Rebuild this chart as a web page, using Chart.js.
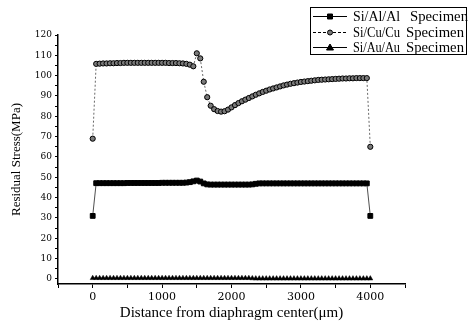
<!DOCTYPE html>
<html>
<head>
<meta charset="utf-8">
<script src="https://cdn.jsdelivr.net/npm/chart.js@4.4.1/dist/chart.umd.min.js"></script>
<style>
  html, body { margin: 0; padding: 0; background: #fff; }
  #wrap { width: 471px; height: 327px; position: relative; }
</style>
</head>
<body>
<div id="wrap"><canvas id="c" width="471" height="327"></canvas></div>
<script>
// Distance from diaphragm center (um), one sample every 50 um
const xPos = [
  0, 50, 100, 150, 200, 250, 300, 350, 400, 450,
  500, 550, 600, 650, 700, 750, 800, 850, 900, 950,
  1000, 1050, 1100, 1150, 1200, 1250, 1300, 1350, 1400, 1450,
  1500, 1550, 1600, 1650, 1700, 1750, 1800, 1850, 1900, 1950,
  2000, 2050, 2100, 2150, 2200, 2250, 2300, 2350, 2400, 2450,
  2500, 2550, 2600, 2650, 2700, 2750, 2800, 2850, 2900, 2950,
  3000, 3050, 3100, 3150, 3200, 3250, 3300, 3350, 3400, 3450,
  3500, 3550, 3600, 3650, 3700, 3750, 3800, 3850, 3900, 3950,
  4000
];

// Residual stress (MPa) per specimen
const alStress = [
  31, 47.1, 47.1, 47.1, 47.1, 47.1, 47.1, 47.1, 47.1, 47.1,
  47.2, 47.2, 47.2, 47.2, 47.2, 47.2, 47.2, 47.2, 47.2, 47.2,
  47.3, 47.3, 47.3, 47.3, 47.3, 47.3, 47.3, 47.4, 47.6, 48.0,
  48.4, 47.9, 47.0, 46.5, 46.4, 46.4, 46.4, 46.4, 46.4, 46.4,
  46.4, 46.4, 46.4, 46.4, 46.4, 46.4, 46.5, 46.8, 47.0, 47.0,
  47.0, 47.0, 47.0, 47.0, 47.0, 47.0, 47.0, 47.0, 47.0, 47.0,
  47.0, 47.0, 47.0, 47.0, 47.0, 47.0, 47.0, 47.0, 47.0, 47.0,
  47.0, 47.0, 47.0, 47.0, 47.0, 47.0, 47.0, 47.0, 47.0, 47.0,
  31
];
const cuStress = [
  69, 105.8, 105.9, 106.0, 106.0, 106.1, 106.1, 106.2, 106.2, 106.3,
  106.3, 106.3, 106.3, 106.3, 106.3, 106.3, 106.3, 106.3, 106.3, 106.3,
  106.3, 106.3, 106.2, 106.2, 106.2, 106.1, 106.0, 105.8, 105.4, 104.6,
  111, 108.5, 97, 89.4, 85.2, 83.5, 82.6, 82.3, 82.5, 83.3,
  84.4, 85.5, 86.5, 87.4, 88.2, 89.0, 89.8, 90.6, 91.3, 92.0,
  92.6, 93.2, 93.7, 94.2, 94.7, 95.2, 95.6, 96.0, 96.3, 96.6,
  96.9, 97.1, 97.3, 97.5, 97.7, 97.9, 98.0, 98.1, 98.2, 98.3,
  98.4, 98.5, 98.6, 98.6, 98.7, 98.7, 98.8, 98.8, 98.8, 98.8,
  65
];
const auStress = [
  0.4, 0.4, 0.4, 0.4, 0.4, 0.4, 0.4, 0.4, 0.4, 0.4,
  0.4, 0.4, 0.4, 0.4, 0.4, 0.4, 0.4, 0.4, 0.4, 0.4,
  0.4, 0.4, 0.4, 0.4, 0.4, 0.4, 0.4, 0.4, 0.4, 0.4,
  0.4, 0.4, 0.4, 0.4, 0.4, 0.4, 0.4, 0.4, 0.4, 0.4,
  0.4, 0.4, 0.4, 0.4, 0.4, 0.4, 0.3, 0.2, 0.2, 0.2,
  0.2, 0.2, 0.2, 0.2, 0.2, 0.2, 0.2, 0.2, 0.2, 0.2,
  0.2, 0.2, 0.2, 0.2, 0.2, 0.2, 0.2, 0.2, 0.2, 0.2,
  0.2, 0.2, 0.2, 0.2, 0.2, 0.2, 0.2, 0.2, 0.2, 0.2,
  0.2
];

const seriesNames = ['Si/Al/Al', 'Si/Cu/Cu', 'Si/Au/Au'];
const legendSuffix = 'Specimen';

// Axis ticks: labelled (major) and unlabelled (minor)
const xMajor = [0, 1000, 2000, 3000, 4000];
const xMinor = [-500, 500, 1500, 2500, 3500, 4500];
const yMajor = [0, 10, 20, 30, 40, 50, 60, 70, 80, 90, 100, 110, 120];
const yMinor = [5, 15, 25, 35, 45, 55, 65, 75, 85, 95, 105, 115];

const SERIF = '"Liberation Serif", "DejaVu Serif", serif';
const DSERIF = '"DejaVu Serif", "Liberation Serif", serif';

function pts(ys) {
  return xPos.map((x, i) => ({ x: x, y: ys[i] }));
}

function setTicks(major, minor) {
  return function (scale) {
    scale.ticks = major.concat(minor).sort((a, b) => a - b).map(v => ({ value: v }));
  };
}

// draw one legend marker by hand so the line passes through it
function mark(ctx, style, x, y, fill) {
  ctx.save();
  ctx.fillStyle = fill;
  ctx.strokeStyle = '#000';
  ctx.lineWidth = 1;
  ctx.beginPath();
  if (style === 'rect') {
    ctx.rect(x - 2.5, y - 2.5, 5, 5);
  } else if (style === 'circle') {
    ctx.arc(x, y, 2.5, 0, Math.PI * 2);
  } else {
    ctx.moveTo(x, y - 3.5);
    ctx.lineTo(x + 3.5, y + 2.5);
    ctx.lineTo(x - 3.5, y + 2.5);
    ctx.closePath();
  }
  ctx.fill();
  ctx.stroke();
  ctx.restore();
}

const boxLegend = {
  id: 'boxLegend',
  afterDraw(chart) {
    const ctx = chart.ctx;
    ctx.save();
    ctx.fillStyle = '#fff';
    ctx.fillRect(310, 7, 157, 48);
    ctx.strokeStyle = '#000';
    ctx.lineWidth = 1;
    ctx.strokeRect(310.5, 7.5, 156, 47);
    const rows = [16, 32, 47];
    chart.data.datasets.forEach((ds, i) => {
      const y = rows[i];
      ctx.save();
      ctx.strokeStyle = '#000';
      ctx.lineWidth = 1;
      ctx.setLineDash(ds.borderDash ? [3, 2] : []);
      ctx.beginPath();
      ctx.moveTo(313, y + 0.5);
      ctx.lineTo(347, y + 0.5);
      ctx.stroke();
      ctx.restore();
      mark(ctx, ds.pointStyle, 330, y + 0.5, ds.pointBackgroundColor);
      ctx.fillStyle = '#000';
      ctx.font = '15px ' + SERIF;
      ctx.textBaseline = 'middle';
      ctx.textAlign = 'left';
      // the original face is narrow, so squeeze each piece to its width
      ctx.fillText(seriesNames[i], 353, y + 1, 47);
      ctx.fillText(legendSuffix, i === 0 ? 410 : 406, y + 1, 58);
    });
    ctx.restore();
  }
};

new Chart(document.getElementById('c'), {
  type: 'line',
  data: {
    datasets: [
      {
        label: seriesNames[0] + ' ' + legendSuffix,
        data: pts(alStress),
        borderColor: '#222',
        borderWidth: 0.8,
        pointStyle: 'rect',
        pointRadius: 3.4,
        pointBackgroundColor: '#000',
        pointBorderColor: '#000',
        pointBorderWidth: 1
      },
      {
        label: seriesNames[1] + ' ' + legendSuffix,
        data: pts(cuStress),
        borderColor: '#444',
        borderWidth: 0.8,
        borderDash: [2, 2],
        pointStyle: 'circle',
        pointRadius: 2.6,
        pointBackgroundColor: '#7a7a7a',
        pointBorderColor: '#000',
        pointBorderWidth: 1
      },
      {
        label: seriesNames[2] + ' ' + legendSuffix,
        data: pts(auStress),
        borderColor: '#222',
        borderWidth: 0.8,
        pointStyle: 'triangle',
        pointRadius: 2.9,
        pointBackgroundColor: '#000',
        pointBorderColor: '#000',
        pointBorderWidth: 0.5
      }
    ]
  },
  options: {
    responsive: false,
    animation: false,
    clip: false,
    layout: { padding: { left: 0, right: 66, top: 35, bottom: 0 } },
    plugins: {
      legend: { display: false },
      tooltip: { enabled: false }
    },
    scales: {
      x: {
        type: 'linear',
        min: -500,
        max: 4500,
        afterBuildTicks: setTicks(xMajor, xMinor),
        afterFit(s) { s.height = 43; },
        border: { display: true, color: '#000', width: 1.5 },
        grid: { drawOnChartArea: false, tickLength: 4, color: '#000', tickWidth: 1 },
        ticks: {
          color: '#000',
          padding: 3,
          maxRotation: 0,
          autoSkip: false,
          font: { family: DSERIF, size: 11 },
          callback: v => (xMajor.includes(v) ? String(v) : '')
        },
        title: {
          display: true,
          text: 'Distance from diaphragm center(\u03bcm)',
          color: '#000',
          font: { family: SERIF, size: 15 },
          padding: { top: 0, bottom: 5 }
        }
      },
      y: {
        type: 'linear',
        min: -2.5,
        max: 120,
        afterBuildTicks: setTicks(yMajor, yMinor),
        afterFit(s) { s.width = 58; },
        border: { display: true, color: '#000', width: 1.5 },
        grid: { drawOnChartArea: false, tickLength: 3, color: '#000', tickWidth: 1 },
        ticks: {
          color: '#000',
          padding: 3,
          autoSkip: false,
          font: { family: DSERIF, size: 9 },
          callback: v => (yMajor.includes(v) ? String(v) : '')
        },
        title: {
          display: true,
          text: 'Residual Stress(MPa)',
          color: '#000',
          font: { family: SERIF, size: 13 },
          padding: { top: 9, bottom: 0 }
        }
      }
    }
  },
  plugins: [boxLegend]
});
</script>
</body>
</html>
